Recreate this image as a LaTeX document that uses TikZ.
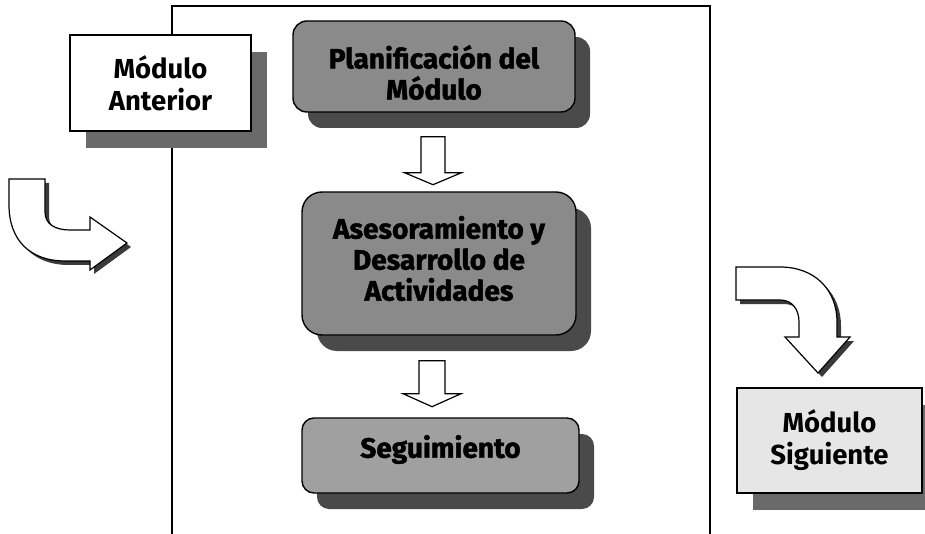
\documentclass[tikz,border=0pt]{standalone}
\usepackage{fontspec}
\setmainfont{Fira Sans}
\newfontfamily\heavyfont[BoldFeatures={FakeBold=1.6}]{Fira Sans}
\usetikzlibrary{calc,shadows}
\definecolor{procgray}{HTML}{8A8A8A}
\definecolor{seggray}{HTML}{A0A0A0}
\definecolor{procshadow}{HTML}{4A4A4A}
\definecolor{modshadow}{HTML}{6A6A6A}
\definecolor{lightfill}{HTML}{E6E6E6}
\definecolor{arrowshadow}{HTML}{3A3A3A}
\begin{document}
\begin{tikzpicture}[x=1pt,y=-1pt,
  frameline/.style={draw=black,line width=1.6pt},
  modbox/.style={rectangle,draw=black,line width=1.4pt,inner sep=0pt,align=center,
    font=\fontsize{27.5}{32}\selectfont\bfseries,
    general shadow={fill=modshadow,shadow xshift=16pt,shadow yshift=-17pt}},
  procbox/.style={rectangle,draw=black,line width=1.4pt,inner sep=0pt,fill=procgray,
    general shadow={fill=procshadow,shadow xshift=15pt,shadow yshift=-16pt}},
  proctext/.style={align=center,inner sep=0pt,text=black,
    font=\fontsize{28}{31}\selectfont\heavyfont\bfseries},
  blockarrow/.style={draw=black,line width=1.2pt,fill=white,line join=miter},
  curvearrow/.style={draw=black,line width=1.2pt,fill=white,line join=miter},
  curveshadow/.style={fill=arrowshadow}
]
\useasboundingbox (0,0) rectangle (925,534);
\fill[white] (0,0) rectangle (925,534);

% frame
\draw[frameline] (172,534) -- (172,6) -- (710,6) -- (710,534);

% left curved arrow (shadow then arrow)
\begin{scope}[shift={(4pt,-4pt)}]
\fill[curveshadow] (9,179) -- (45,179) -- (45,212) .. controls (45,224) and (55,230) .. (70,230) -- (90,230) -- (90,217) -- (127,243) -- (90,270) -- (90,261) -- (65,261) .. controls (30,261) and (9,240) .. (9,205) -- cycle;
\end{scope}
\draw[curvearrow] (9,179) -- (45,179) -- (45,212) .. controls (45,224) and (55,230) .. (70,230) -- (90,230) -- (90,217) -- (127,243) -- (90,270) -- (90,261) -- (65,261) .. controls (30,261) and (9,240) .. (9,205) -- cycle;

% right curved arrow
\begin{scope}[shift={(4pt,-4pt)}]
\fill[curveshadow] (736,267) -- (780,267) .. controls (815,267) and (837,290) .. (837,322) -- (837,337) -- (850,337) -- (818,373) -- (785,337) -- (799,337) -- (799,322) .. controls (799,309) and (792,300) .. (780,300) -- (736,300) -- cycle;
\end{scope}
\draw[curvearrow] (736,267) -- (780,267) .. controls (815,267) and (837,290) .. (837,322) -- (837,337) -- (850,337) -- (818,373) -- (785,337) -- (799,337) -- (799,322) .. controls (799,309) and (792,300) .. (780,300) -- (736,300) -- cycle;

% module boxes
\node[modbox,fill=white,minimum width=181pt,minimum height=96pt] (ant) at (160.5,83) {Módulo\\Anterior};
\node[modbox,fill=lightfill,minimum width=185pt,minimum height=105pt] (sig) at (829.5,440.5) {Módulo\\Siguiente};

% process boxes
\node[procbox,rounded corners=14pt,minimum width=282pt,minimum height=91pt] (plan) at (434,66.5) {};
\node[procbox,rounded corners=20pt,minimum width=274pt,minimum height=143pt] (ases) at (439,263.5) {};
\node[procbox,fill=seggray,rounded corners=12pt,minimum width=277pt,minimum height=75pt] (seg) at (440.5,455.5) {};

\node[proctext] (plant) at ($(plan.center)+(0,6)$) {Planificación del\\Módulo};
\node[proctext] (asest) at ($(ases.center)+(0,-5)$) {Asesoramiento y\\Desarrollo de\\Actividades};
\node[proctext] (segt) at ($(seg.center)+(0,-6)$) {Seguimiento};

% block arrows between process boxes
\coordinate (a1s) at ($(plan.south)+(-1,24)$);
\coordinate (a2s) at ($(ases.south)+(-7,25)$);
\draw[blockarrow] (a1s) ++(-12,0) -- ++(24,0) -- ++(0,36) -- ++(16.5,0) -- ++(-28.5,12) -- ++(-28.5,-12) -- ++(16.5,0) -- cycle;
\draw[blockarrow] (a2s) ++(-13,0) -- ++(26,0) -- ++(0,33) -- ++(16,0) -- ++(-29,13) -- ++(-29,-13) -- ++(16,0) -- cycle;
\end{tikzpicture}
\end{document}
